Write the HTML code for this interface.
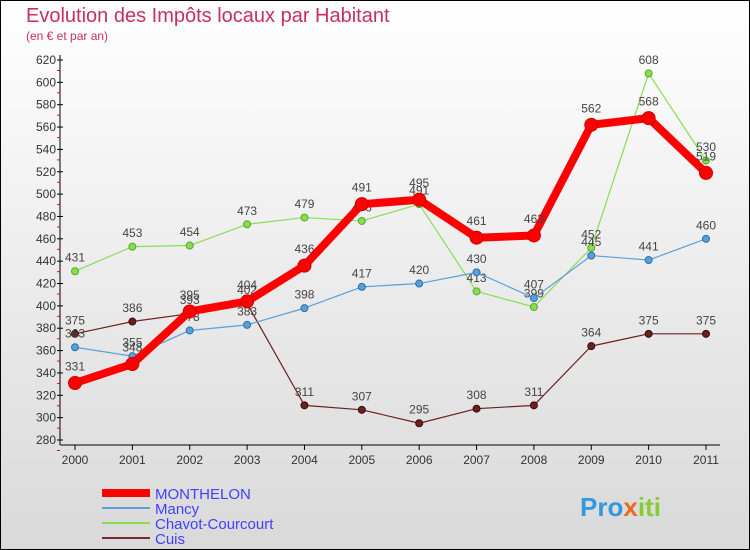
<!DOCTYPE html>
<html><head><meta charset="utf-8"><style>
body{margin:0;width:750px;height:550px;overflow:hidden;font-family:"Liberation Sans",sans-serif}
svg{display:block}
</style></head><body>
<svg id="c" width="750" height="550" xmlns="http://www.w3.org/2000/svg">
<defs><linearGradient id="bg" x1="0" y1="0" x2="0" y2="1"><stop offset="0" stop-color="#ffffff"/><stop offset="1" stop-color="#d9d9d9"/></linearGradient></defs>
<rect x="0.5" y="0.5" width="749" height="549" fill="url(#bg)" stroke="#000"/>
<text x="26" y="22" font-size="20" fill="#c8305a">Evolution des Impôts locaux par Habitant</text>
<text x="26" y="40" font-size="12" fill="#c8305a">(en € et par an)</text>
<g id="axes"></g><g id="series"></g>
<g>
<line x1="102" y1="493" x2="150" y2="493" stroke="#ff0000" stroke-width="8"/>
<text x="155" y="499" font-size="15" fill="#4040ff">MONTHELON</text>
<line x1="102" y1="508" x2="150" y2="508" stroke="#5aa0d8" stroke-width="2"/>
<text x="155" y="514" font-size="15" fill="#4040ff">Mancy</text>
<line x1="102" y1="523" x2="150" y2="523" stroke="#88dd55" stroke-width="2"/>
<text x="155" y="529" font-size="15" fill="#4040ff">Chavot-Courcourt</text>
<line x1="102" y1="538" x2="150" y2="538" stroke="#7a2a2a" stroke-width="2"/>
<text x="155" y="544" font-size="15" fill="#4040ff">Cuis</text>
</g>
<text x="580" y="516" font-size="26" font-weight="bold" fill="#3399dd">Pro<tspan fill="#ee6622">x</tspan><tspan fill="#88cc33">iti</tspan></text>
</svg>
<script>
const years=[2000,2001,2002,2003,2004,2005,2006,2007,2008,2009,2010,2011];
const yTicks=[280,300,320,340,360,380,400,420,440,460,480,500,520,540,560,580,600,620];
const monthelon=[331,348,395,404,436,491,495,461,463,562,568,519];
const mancy=[363,355,378,383,398,417,420,430,407,445,441,460];
const chavot=[431,453,454,473,479,476,491,413,399,452,608,530];
const cuis=[375,386,393,402,311,307,295,308,311,364,375,375];
const NS="http://www.w3.org/2000/svg";
const X=i=>75+i*(706-75)/11;
const Y=v=>60+(620-v)*(440-60)/340;
function mk(t,a,p){const e=document.createElementNS(NS,t);for(const k in a)e.setAttribute(k,a[k]);p.appendChild(e);return e;}
const ax=document.getElementById('axes');
let l=mk('line',{x1:60,y1:55,x2:60,y2:445,stroke:'#000'},ax);


l=mk('line',{x1:60,y1:445,x2:720,y2:445,stroke:'#000'},ax);


yTicks.forEach(v=>{
 mk('line',{x1:57,y1:Y(v),x2:63,y2:Y(v),stroke:'#000'},ax);
 mk('line',{x1:57,y1:Y(v)+10.5,x2:60,y2:Y(v)+10.5,stroke:'#f00'},ax);
 const t=mk('text',{x:56,y:Y(v)+4,'font-size':12,fill:'#333','text-anchor':'end'},ax);t.textContent=v;
 
 
});
years.forEach((y,i)=>{
 mk('line',{x1:X(i),y1:445,x2:X(i),y2:450,stroke:'#000'},ax);
 const t=mk('text',{x:X(i),y:464,'font-size':12,fill:'#333','text-anchor':'middle'},ax);t.textContent=y;
 
 
});
const sg=document.getElementById('series');
function draw(vals,color,w,r,name,dark){
 const g=mk('g',{},sg);
 
 
 const p=mk('polyline',{points:vals.map((v,i)=>X(i)+','+Y(v)).join(' '),fill:'none',stroke:color,'stroke-width':w,'stroke-linejoin':'round'},g);
 
 
 vals.forEach((v,i)=>{
  const c=mk('circle',{cx:X(i),cy:Y(v),r:r,fill:color,stroke:dark,'stroke-width':1},g);
  
  
  const t=mk('text',{x:X(i),y:Y(v)-r-6,'font-size':12,fill:'#444','text-anchor':'middle'},g);t.textContent=v;
  
  
 });
}
draw(cuis,'#6b2020',1.2,3.5,'cuis','#3a0a0a');
draw(chavot,'#88dd55',1.2,3.5,'chavot','#55aa22');
draw(mancy,'#5aa0d8',1.2,3.5,'mancy','#2a70a8');
draw(monthelon,'#ff0000',8,6.5,'monthelon','#cc0000');
</script>
</body></html>
